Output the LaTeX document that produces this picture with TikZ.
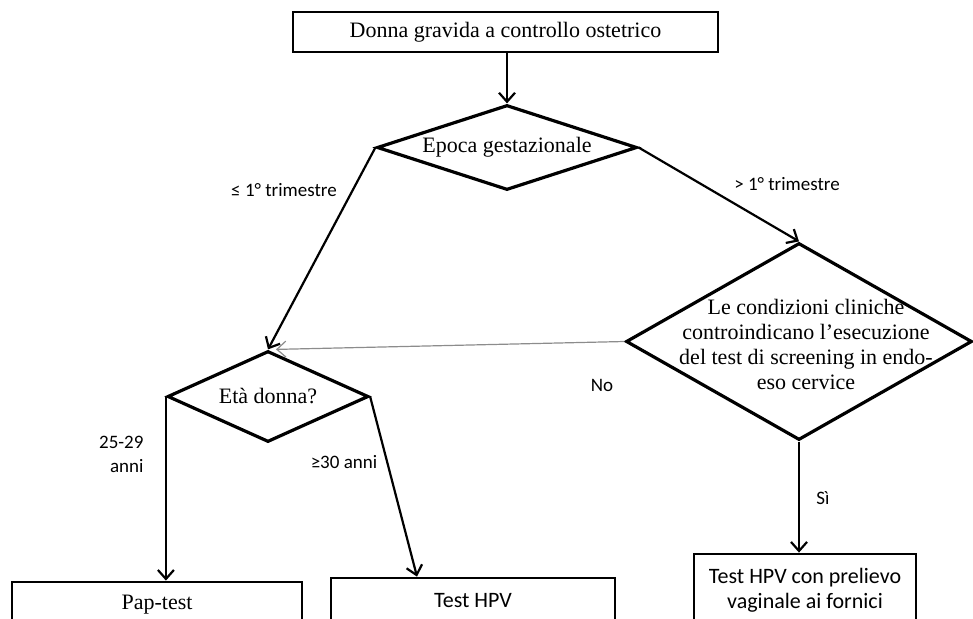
\documentclass[tikz,border=0pt]{standalone}
\usepackage{fontspec}
\setmainfont{Liberation Serif}
\newfontfamily\calibri{Carlito}
\usetikzlibrary{shapes.geometric,arrows.meta}
\begin{document}
\begin{tikzpicture}[x=1pt, y=-1pt,
    box/.style = {shape=rectangle, draw, line width=2.8pt, inner sep=0pt, align=center},
    decision/.style = {shape=diamond, draw, line width=3.2pt, inner sep=0pt, aspect=3},
    serif/.style = {font=\fontsize{22}{25}\selectfont},
    sans/.style = {font=\calibri\fontsize{22}{25}\selectfont},
    lbl/.style = {font=\calibri\fontsize{19}{24}\selectfont, align=right},
    arrow/.style = {-{Straight Barb[length=9pt,width=16pt]}, line width=2.2pt}]
  \clip (0,0) rectangle (973,618);
  \node[box, serif, minimum width=425, minimum height=40] (start) at (505.5,32) {Donna gravida a controllo ostetrico};
  \node[decision, serif, minimum width=260, minimum height=85] (epoca) at (507,147.5) {Epoca gestazionale};
  \node[decision, minimum width=346, minimum height=197] (cond) at (799,341.5) {};
  \node[serif, align=center] (condtext) at (806,344) {Le condizioni cliniche\\ controindicano l'esecuzione\\ del test di screening in endo-\\ eso cervice};
  \node[decision, serif, minimum width=201, minimum height=91] (eta) at (268,396.5) {Età donna?};
  \node[box, serif, minimum width=290, minimum height=46] (pap) at (157,605) {Pap-test};
  \node[box, sans, minimum width=284, minimum height=46] (hpv) at (473,601) {Test HPV};
  \node[box, sans, minimum width=222, minimum height=72] (hpvvag) at (805,590) {Test HPV con prelievo\\ vaginale ai fornici};
  \node[lbl] (lt) at (284,190) {≤ 1° trimestre};
  \node[lbl] (gt) at (787,184) {> 1° trimestre};
  \node[lbl] (no) at (602,385) {No};
  \node[lbl] (si) at (823,498) {Sì};
  \node[lbl, anchor=east] (young) at (147,454) {25-29\\ anni};
  \node[lbl] (old) at (344,462) {≥30 anni};
  \draw[arrow] (start.south -| epoca.north) -- (epoca.north);
  \draw[arrow] (epoca.west) -- (eta.north);
  \draw[arrow] (epoca.east) -- (cond.north);
  \draw[arrow, line width=1.2pt, gray!90] (cond.west) -- ([xshift=8pt]eta.north);
  \draw[arrow] (eta.west) -- (eta.west |- pap.north);
  \draw[arrow] (eta.east) -- ([xshift=-56pt]hpv.north);
  \draw[arrow] (cond.south) -- (cond.south |- hpvvag.north);
\end{tikzpicture}
\end{document}
